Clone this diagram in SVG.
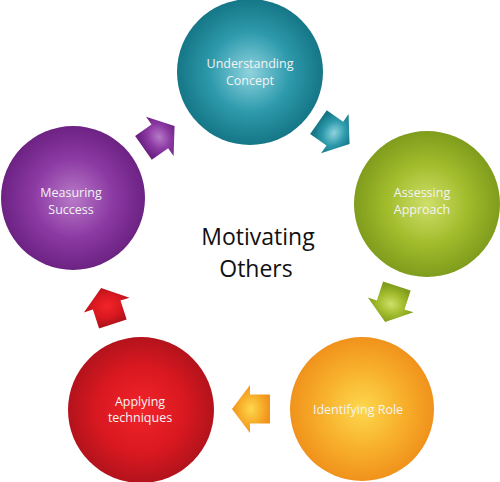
<svg xmlns="http://www.w3.org/2000/svg" width="500" height="482" viewBox="0 0 500 482">
<defs>
<radialGradient id="gTeal" cx="50%" cy="50%" r="50%"><stop offset="0" stop-color="#8fd3de"/><stop offset="0.55" stop-color="#2d9aac"/><stop offset="1" stop-color="#157686"/></radialGradient>
<radialGradient id="gGreen" cx="50%" cy="50%" r="50%"><stop offset="0" stop-color="#cfdf6a"/><stop offset="0.55" stop-color="#a2bc2c"/><stop offset="1" stop-color="#7f9c1c"/></radialGradient>
<radialGradient id="gOrange" cx="50%" cy="50%" r="50%"><stop offset="0" stop-color="#fdd84e"/><stop offset="0.55" stop-color="#f8b12c"/><stop offset="1" stop-color="#f0921c"/></radialGradient>
<radialGradient id="gRed" cx="50%" cy="50%" r="50%"><stop offset="0" stop-color="#f2242a"/><stop offset="0.6" stop-color="#d91820"/><stop offset="1" stop-color="#b3131c"/></radialGradient>
<radialGradient id="gPurple" cx="50%" cy="50%" r="50%"><stop offset="0" stop-color="#b87ac8"/><stop offset="0.55" stop-color="#8c3aa3"/><stop offset="1" stop-color="#6c2283"/></radialGradient>
<polygon id="arrow" points="-19,-14.5 1,-14.5 1,-24 19,0 1,24 1,14.5 -19,14.5"/>
</defs>
<style>
.lbl{font-family:"Open Sans","Liberation Sans",sans-serif;font-size:12.5px;fill:#f3f3f3;text-anchor:middle}
.title{font-family:"Open Sans","Liberation Sans",sans-serif;font-size:23px;fill:#111;text-anchor:middle}
</style>
<rect width="500" height="482" fill="#ffffff"/>
<g id="connectors">
<use href="#arrow" fill="url(#gTeal)" transform="translate(334,133) rotate(35)"/>
<use href="#arrow" fill="url(#gGreen)" transform="translate(391,304) rotate(108)"/>
<use href="#arrow" fill="url(#gOrange)" transform="translate(251,409) rotate(180)"/>
<use href="#arrow" fill="url(#gRed)" transform="translate(107,306) rotate(-108)"/>
<use href="#arrow" fill="url(#gPurple)" transform="translate(159,137) rotate(-35)"/>
</g>
<g id="understanding">
<circle cx="250" cy="72" r="73" fill="url(#gTeal)"/>
<text class="lbl" x="250" y="68">Understanding</text>
<text class="lbl" x="250" y="85">Concept</text>
</g>
<g id="assessing">
<circle cx="427" cy="204" r="73" fill="url(#gGreen)"/>
<text class="lbl" x="422" y="197">Assessing</text>
<text class="lbl" x="422" y="214">Approach</text>
</g>
<g id="identifying">
<circle cx="362" cy="409" r="72" fill="url(#gOrange)"/>
<text class="lbl" x="358" y="414">Identifying Role</text>
</g>
<g id="applying">
<circle cx="141" cy="410" r="73" fill="url(#gRed)"/>
<text class="lbl" x="140" y="406">Applying</text>
<text class="lbl" x="140" y="422">techniques</text>
</g>
<g id="measuring">
<circle cx="73" cy="198" r="72" fill="url(#gPurple)"/>
<text class="lbl" x="71" y="197">Measuring</text>
<text class="lbl" x="71" y="214">Success</text>
</g>
<g id="center">
<text class="title" x="258" y="245">Motivating</text>
<text class="title" x="256" y="277">Others</text>
</g>
</svg>
